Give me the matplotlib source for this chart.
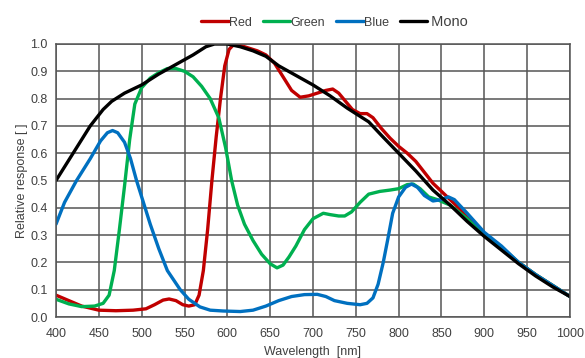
import matplotlib
matplotlib.use('Agg')
import matplotlib.pyplot as plt

# wavelength [nm] and relative response
red_wl = [400, 415, 430, 450, 470, 490, 505, 515, 525, 532, 540, 548, 555, 562, 567, 572, 577, 582,
          587, 592, 597, 602, 608, 620, 635, 645, 655, 665, 675, 685, 695, 705, 715, 723, 730, 738,
          746, 755, 763, 770, 780, 790, 800, 810, 820, 830, 840, 850, 860, 870, 880, 890, 900, 920,
          940, 960, 980, 1000]
red_val = [0.08, 0.06, 0.04, 0.025, 0.023, 0.025, 0.03, 0.045, 0.062, 0.066, 0.06, 0.045, 0.04, 0.045,
           0.08, 0.17, 0.32, 0.5, 0.66, 0.8, 0.92, 0.98, 1.0, 0.99, 0.975, 0.96, 0.93, 0.88, 0.83, 0.805,
           0.81, 0.82, 0.83, 0.835, 0.82, 0.79, 0.76, 0.745, 0.745, 0.73, 0.69, 0.655, 0.625, 0.6, 0.57,
           0.53, 0.49, 0.46, 0.43, 0.40, 0.365, 0.33, 0.30, 0.25, 0.20, 0.155, 0.115, 0.075]

green_wl = [400, 415, 430, 445, 455, 462, 468, 474, 480, 486, 492, 500, 510, 520, 530, 540, 550, 560,
            570, 580, 590, 598, 605, 612, 620, 630, 640, 650, 658, 665, 672, 680, 690, 700, 712, 720,
            730, 737, 745, 755, 765, 778, 790, 800, 810, 817, 825, 835, 845, 860, 880, 900, 920, 940,
            960, 980, 1000]
green_val = [0.065, 0.048, 0.038, 0.04, 0.05, 0.08, 0.17, 0.32, 0.48, 0.65, 0.78, 0.84, 0.875, 0.895,
             0.91, 0.91, 0.90, 0.88, 0.845, 0.8, 0.73, 0.62, 0.5, 0.41, 0.34, 0.28, 0.23, 0.195, 0.18,
             0.19, 0.22, 0.26, 0.32, 0.36, 0.38, 0.375, 0.37, 0.37, 0.385, 0.42, 0.45, 0.46, 0.465,
             0.47, 0.485, 0.487, 0.47, 0.44, 0.43, 0.41, 0.36, 0.30, 0.255, 0.20, 0.155, 0.115, 0.075]

blue_wl = [400, 410, 424, 440, 452, 460, 466, 472, 480, 487, 494, 502, 510, 520, 530, 545, 555, 568,
           580, 595, 615, 630, 645, 660, 675, 690, 705, 715, 725, 740, 755, 763, 770, 776, 782, 787,
           793, 800, 808, 815, 822, 830, 840, 850, 858, 865, 880, 900, 920, 940, 960, 980, 1000]
blue_val = [0.34, 0.42, 0.5, 0.58, 0.645, 0.675, 0.683, 0.675, 0.64, 0.58, 0.5, 0.42, 0.34, 0.25, 0.17,
            0.1, 0.065, 0.037, 0.025, 0.022, 0.02, 0.025, 0.04, 0.06, 0.075, 0.082, 0.083, 0.075, 0.06,
            0.05, 0.045, 0.05, 0.07, 0.12, 0.2, 0.28, 0.38, 0.44, 0.475, 0.487, 0.475, 0.445, 0.425,
            0.43, 0.44, 0.43, 0.38, 0.31, 0.26, 0.20, 0.155, 0.115, 0.075]

mono_wl = [400, 420, 440, 455, 465, 480, 500, 520, 540, 560, 575, 585, 600, 615, 630, 645, 660, 680,
           700, 720, 740, 755, 765, 780, 800, 820, 840, 860, 880, 900, 920, 940, 960, 980, 1000]
mono_val = [0.5, 0.6, 0.7, 0.76, 0.79, 0.82, 0.85, 0.89, 0.925, 0.96, 0.99, 1.0, 1.0, 0.99, 0.975,
            0.955, 0.92, 0.885, 0.85, 0.81, 0.765, 0.735, 0.715, 0.665, 0.6, 0.535, 0.465, 0.41, 0.35,
            0.295, 0.245, 0.195, 0.15, 0.11, 0.075]

series = [('Red', red_wl, red_val, '#c00000'),
          ('Green', green_wl, green_val, '#00b050'),
          ('Blue', blue_wl, blue_val, '#0070c0'),
          (' Mono', mono_wl, mono_val, '#000000')]

plt.rcParams['font.family'] = ['Liberation Sans', 'DejaVu Sans']
text_col = '#404040'

fig = plt.figure(figsize=(5.85, 3.58), dpi=100)
ax = fig.add_axes([56 / 585, 41 / 358, 514 / 585, 273 / 358])

for name, wl, val, color in series:
    ax.plot(wl, val, color=color, lw=2.4, label=name, solid_capstyle='round')

ax.set_xlim(400, 1000)
ax.set_ylim(0, 1.0)
ax.set_xticks(range(400, 1001, 50))
ax.set_yticks([i / 10 for i in range(11)])
ax.set_yticklabels(['%.1f' % (i / 10) for i in range(11)])
ax.grid(True, color='#555555', lw=1.1)
ax.set_axisbelow(True)
for sp in ax.spines.values():
    sp.set_color('#555555')
    sp.set_linewidth(1.1)
ax.tick_params(length=0, labelsize=9, colors=text_col)
ax.tick_params(axis='x', pad=8)
ax.tick_params(axis='y', pad=6)
ax.set_xlabel('Wavelength  [nm]', fontsize=9, color=text_col, labelpad=4)
ax.set_ylabel('Relative response [ ]', fontsize=9, color=text_col, labelpad=2)

leg = fig.legend(loc='upper center', bbox_to_anchor=(0.572, 0.99), ncol=4, frameon=False,
                 fontsize=9, handlelength=2.2, handletextpad=0.0, columnspacing=0.9,
                 labelcolor=text_col)
leg.get_texts()[-1].set_fontsize(10.5)

fig.savefig('out.png', dpi=100)
